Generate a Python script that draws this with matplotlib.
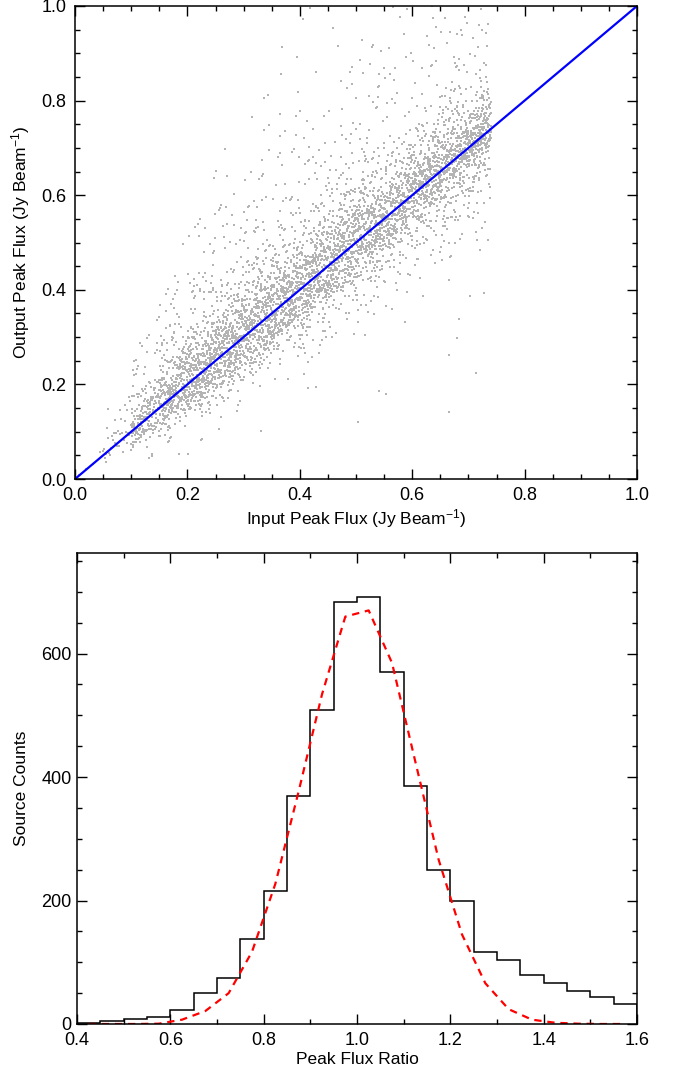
import numpy as np
import matplotlib
matplotlib.use('Agg')
import matplotlib.pyplot as plt
from matplotlib.ticker import MultipleLocator

plt.rcParams['font.family'] = ['Liberation Sans', 'DejaVu Sans']
plt.rcParams['mathtext.fontset'] = 'custom'
plt.rcParams['mathtext.rm'] = 'Liberation Sans'
plt.rcParams['mathtext.it'] = 'Liberation Sans:italic'

# peak flux ratio (output / input) histogram, 0.05 wide bins from 0.4 to 1.6
ratio_edges = np.round(np.arange(0.40, 1.6001, 0.05), 2)
ratio_counts = [2, 5, 8, 11, 23, 50, 75, 137, 216, 370, 509, 683,
                692, 570, 385, 250, 200, 116, 104, 79, 66, 54, 43, 32]
# gaussian fit, sampled at the bin centres
fit_counts = [0, 0, 0, 0.5, 7, 21, 50, 117, 227, 377, 534, 660,
              670, 585, 425, 266, 145, 66, 24, 7, 2, 0.5, 0, 0]

# ratios outside the plotted range (only visible in the scatter)
tail_edges = [1.6, 1.8, 2.0, 2.5, 3.0, 4.0, 6.0]
tail_counts = [95, 70, 80, 40, 25, 10]
low_edges = [0.2, 0.3, 0.4]
low_counts = [4, 10]

# injected (input) peak flux distribution
input_edges = [0.00, 0.05, 0.10, 0.15, 0.20, 0.25, 0.30, 0.35,
               0.40, 0.45, 0.50, 0.55, 0.60, 0.65, 0.70, 0.74]
input_counts = [4, 40, 210, 340, 410, 410, 410, 400, 400,
                390, 390, 390, 395, 405, 355]


def spread(edges, counts):
    vals = []
    for lo, hi, n in zip(edges[:-1], edges[1:], counts):
        n = int(n)
        vals.append(lo + (np.arange(n) + 0.5) / n * (hi - lo))
    return np.concatenate(vals)


ratios = np.concatenate([spread(low_edges, low_counts),
                         spread(ratio_edges, ratio_counts),
                         spread(tail_edges, tail_counts)])
inputs = spread(input_edges, input_counts)
n = min(len(ratios), len(inputs))
ratios, inputs = ratios[:n], inputs[:n]

# pair sources: faint inputs tend to get the larger deviations
phi = (np.sqrt(5) - 1) / 2
idx = np.arange(n)
in_rank = np.argsort(np.argsort(inputs)) / n
dev_rank = np.argsort(np.argsort(np.abs(np.log(ratios)))) / n
mix = 0.4
key_in = mix * (1 - in_rank) + (1 - mix) * ((idx * phi) % 1)
key_r = mix * dev_rank + (1 - mix) * ((idx * np.sqrt(2)) % 1)
x_in = inputs[np.argsort(key_in)]
r_out = ratios[np.argsort(key_r)]
y_out = x_in * r_out

fig = plt.figure(figsize=(6.75, 10.75), dpi=100)
ax1 = fig.add_axes([75 / 675, 1 - 479 / 1075, 562 / 675, 473 / 1075])
ax2 = fig.add_axes([77 / 675, 1 - 1024 / 1075, 560 / 675, 471 / 1075])

ax1.scatter(x_in, y_out, s=2.4, marker='s', color='#b4b4b4', linewidths=0)
ax1.plot([0, 1], [0, 1], color='blue', lw=1.6)
ax1.set_xlim(0, 1)
ax1.set_ylim(0, 1)
ax1.xaxis.set_major_locator(MultipleLocator(0.2))
ax1.xaxis.set_minor_locator(MultipleLocator(0.05))
ax1.yaxis.set_major_locator(MultipleLocator(0.2))
ax1.yaxis.set_minor_locator(MultipleLocator(0.05))
ax1.set_xlabel('Input Peak Flux (Jy Beam$^{-1}$)', fontsize=12.5, labelpad=2)
ax1.set_ylabel('Output Peak Flux (Jy Beam$^{-1}$)', fontsize=12.5, labelpad=7)

ax2.stairs(ratio_counts, ratio_edges, color='black', lw=1.1)
centres = (ratio_edges[:-1] + ratio_edges[1:]) / 2
ax2.plot(centres, fit_counts, color='red', lw=1.6, dashes=(3.3, 2.6))
ax2.set_xlim(0.4, 1.6)
ax2.set_ylim(0, 763)
ax2.xaxis.set_major_locator(MultipleLocator(0.2))
ax2.xaxis.set_minor_locator(MultipleLocator(0.1))
ax2.yaxis.set_major_locator(MultipleLocator(200))
ax2.yaxis.set_minor_locator(MultipleLocator(50))
ax2.set_xlabel('Peak Flux Ratio', fontsize=12.5, labelpad=2)
ax2.set_ylabel('Source Counts', fontsize=12.5, labelpad=9)

for ax in (ax1, ax2):
    ax.tick_params(which='both', direction='in', top=True, right=True,
                   labelsize=13, width=1.0, pad=6)
    ax.tick_params(which='major', length=7.5)
    ax.tick_params(which='minor', length=3.8)
    for sp in ax.spines.values():
        sp.set_linewidth(1.1)
ax2.tick_params(axis='y', pad=4)

fig.savefig('out.png', dpi=100)
